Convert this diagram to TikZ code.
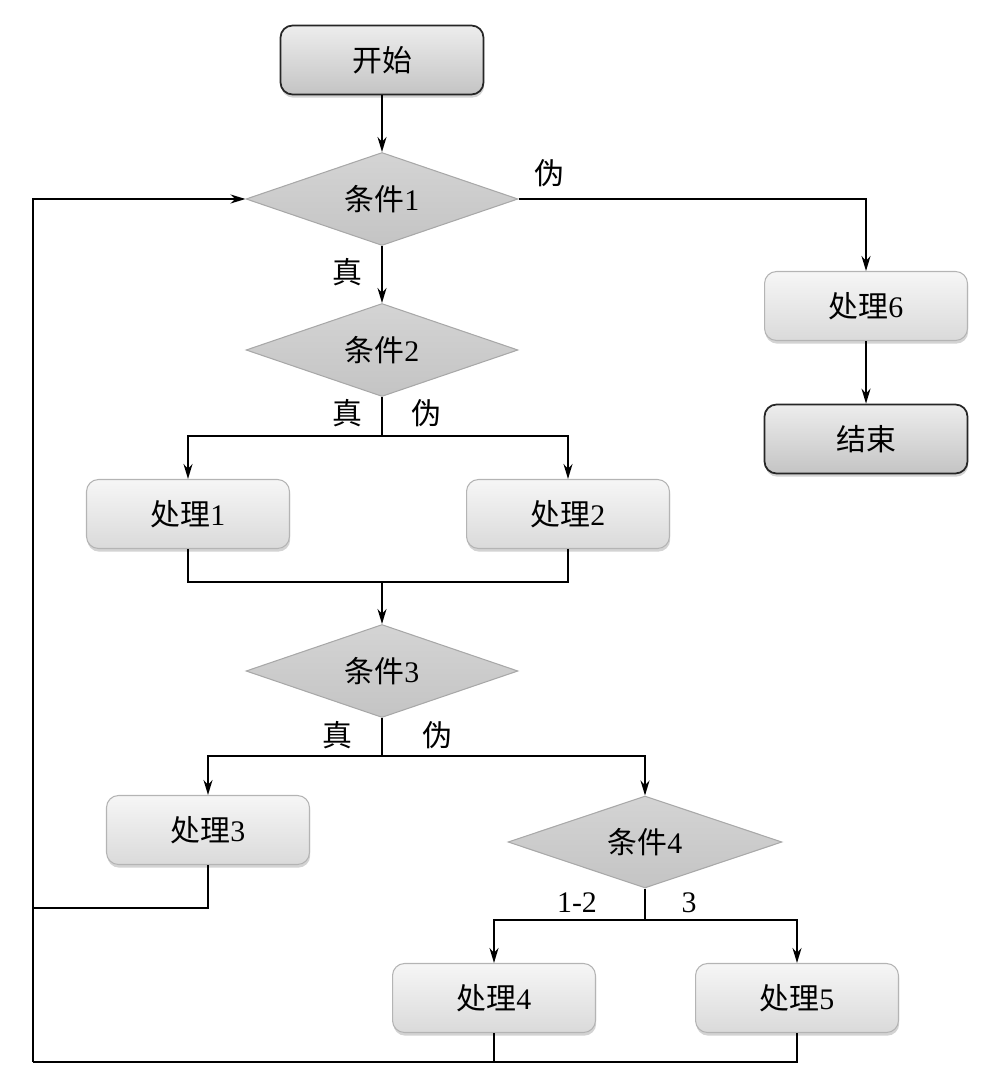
\documentclass[tikz,border=0pt]{standalone}
\usepackage{fontspec}
\setmainfont{Liberation Serif}
\newfontfamily\cjk{Noto Sans CJK SC}
\usetikzlibrary{shapes.geometric,arrows.meta,shadows}
\definecolor{boxtop}{HTML}{F6F6F6}
\definecolor{boxbot}{HTML}{DADADA}
\definecolor{boxline}{HTML}{B4B4B4}
\definecolor{termtop}{HTML}{EDEDED}
\definecolor{termbot}{HTML}{C4C4C4}
\definecolor{diatop}{HTML}{D4D4D4}
\definecolor{diabot}{HTML}{C4C4C4}
\definecolor{dialine}{HTML}{A8A8A8}
\tikzset{
  base/.style={font=\fontsize{17}{19}\selectfont, text=black},
  procbox/.style={base, rectangle, rounded corners=0.24cm, minimum width=4.06cm, minimum height=1.38cm,
    draw=boxline, line width=0.6pt, top color=boxtop, bottom color=boxbot,
    drop shadow={shadow xshift=0.4pt, shadow yshift=-1.8pt, opacity=0.35, fill=gray}},
  termbox/.style={procbox, draw=black!85, line width=1pt, top color=termtop, bottom color=termbot},
  decbox/.style={base, diamond, aspect=2.9, minimum width=5.44cm, minimum height=1.86cm, inner sep=0pt,
    draw=dialine, line width=0.6pt, top color=diatop, bottom color=diabot},
  lbl/.style={base, inner sep=0pt},
  conn/.style={line width=1.1pt, draw=black},
  arr/.style={conn, -{Stealth[length=0.3cm, width=0.18cm]}}
}
\begin{document}
\begin{tikzpicture}[x=0.02cm, y=-0.02cm]
\useasboundingbox (0,0) rectangle (998,1087);
% nodes
\node[termbox] (start) at (382,60) {{\cjk 开始}};
\node[decbox] (c1) at (382,199) {{\cjk 条件}1};
\node[decbox] (c2) at (382,350) {{\cjk 条件}2};
\node[procbox] (p1) at (188,514) {{\cjk 处理}1};
\node[procbox] (p2) at (568,514) {{\cjk 处理}2};
\node[decbox] (c3) at (382,671) {{\cjk 条件}3};
\node[procbox] (p3) at (208,830) {{\cjk 处理}3};
\node[decbox, minimum width=5.48cm, minimum height=1.84cm] (c4) at (645,842) {{\cjk 条件}4};
\node[procbox] (p4) at (494,998) {{\cjk 处理}4};
\node[procbox] (p5) at (797,998) {{\cjk 处理}5};
\node[procbox] (p6) at (866,306) {{\cjk 处理}6};
\node[termbox] (end) at (866,439) {{\cjk 结束}};
% labels
\node[lbl] (f1) at (549,173) {{\cjk 伪}};
\node[lbl] (t1) at (347,272) {{\cjk 真}};
\node[lbl] (t2) at (347,413) {{\cjk 真}};
\node[lbl] (f2) at (426,413) {{\cjk 伪}};
\node[lbl] (t3) at (337,735) {{\cjk 真}};
\node[lbl] (f3) at (437,735) {{\cjk 伪}};
\node[lbl] (k12) at (577,903) {1-2};
\node[lbl] (k3) at (689,903) {3};
% junction coordinates
\coordinate (j2) at (382,436);
\coordinate (j3) at (382,582);
\coordinate (j4) at (382,756);
\coordinate (j5) at (645,920);
\coordinate (lm) at (33,908);
\coordinate (lb) at (33,1062);
% connectors
\draw[arr] (start) -- (c1);
\draw[arr] (c1.east) -| (p6.north);
\draw[arr] (p6) -- (end);
\draw[arr] (c1) -- (c2);
\draw[conn] (c2.south) -- (j2);
\draw[arr] (j2) -| (p1.north);
\draw[arr] (j2) -| (p2.north);
\draw[conn] (p1.south) |- (j3);
\draw[conn] (p2.south) |- (j3);
\draw[arr] (j3) -- (c3);
\draw[conn] (c3.south) -- (j4);
\draw[arr] (j4) -| (p3.north);
\draw[arr] (j4) -| (c4.north);
\draw[conn] (c4.south) -- (j5);
\draw[arr] (j5) -| (p4.north);
\draw[arr] (j5) -| (p5.north);
\draw[conn] (p3.south) |- (lm);
\draw[conn] (p4.south) |- (lb);
\draw[conn] (p5.south) |- (lb);
\draw[arr] (lb) |- (c1.west);
\end{tikzpicture}
\end{document}
